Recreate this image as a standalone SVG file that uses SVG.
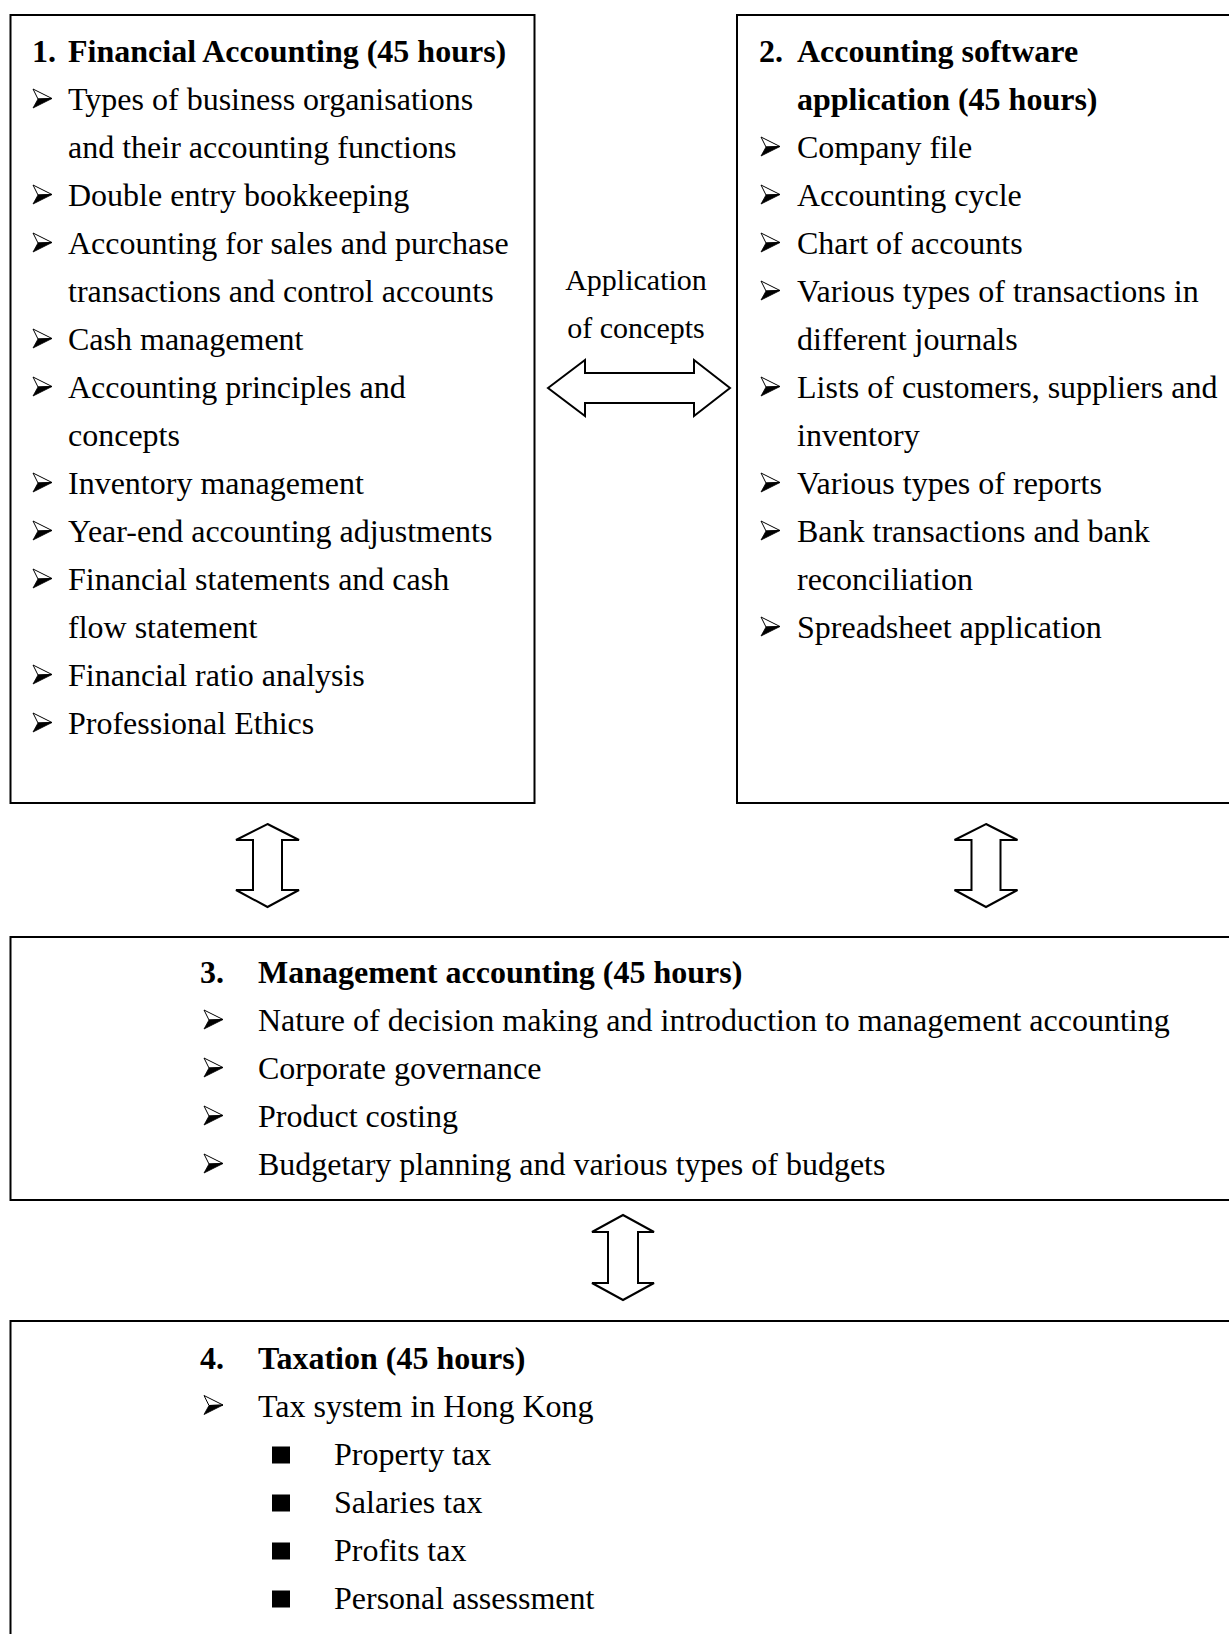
<svg xmlns="http://www.w3.org/2000/svg" xmlns:xlink="http://www.w3.org/1999/xlink" width="1229" height="1634" viewBox="0 0 1229 1634">
<style>
text { font-family: "Liberation Serif", "Times New Roman", serif; font-size: 32px; fill: #000; }
.b { font-weight: bold; }
.lbl { font-size: 30px; text-anchor: middle; }
.box { fill: #fff; stroke: #000; stroke-width: 2; }
.arw { fill: #fff; stroke: #000; stroke-width: 2; stroke-linejoin: miter; }
.sq { fill: #000; }
</style>
<defs>
<g id="bul">
<polygon points="0,-9.5 19,0 5,0.5" fill="#fff" stroke="#000" stroke-width="1"/>
<polygon points="5,0.5 19,0 0,9.5" fill="#000" stroke="#000" stroke-width="0.8"/>
</g>
</defs>
<rect width="1229" height="1634" fill="#fff"/>

<g id="node1">
<rect class="box" x="10.5" y="15" width="524" height="788"/>
<text class="b" x="32" y="62">1.</text>
<text class="b" x="68" y="62">Financial Accounting (45 hours)</text>
<use xlink:href="#bul" x="33" y="98.5"/><text x="68" y="110">Types of business organisations</text>
<text x="68" y="158">and their accounting functions</text>
<use xlink:href="#bul" x="33" y="194.5"/><text x="68" y="206">Double entry bookkeeping</text>
<use xlink:href="#bul" x="33" y="242.5"/><text x="68" y="254">Accounting for sales and purchase</text>
<text x="68" y="302">transactions and control accounts</text>
<use xlink:href="#bul" x="33" y="338.5"/><text x="68" y="350">Cash management</text>
<use xlink:href="#bul" x="33" y="386.5"/><text x="68" y="398">Accounting principles and</text>
<text x="68" y="446">concepts</text>
<use xlink:href="#bul" x="33" y="482.5"/><text x="68" y="494">Inventory management</text>
<use xlink:href="#bul" x="33" y="530.5"/><text x="68" y="542">Year-end accounting adjustments</text>
<use xlink:href="#bul" x="33" y="578.5"/><text x="68" y="590">Financial statements and cash</text>
<text x="68" y="638">flow statement</text>
<use xlink:href="#bul" x="33" y="674.5"/><text x="68" y="686">Financial ratio analysis</text>
<use xlink:href="#bul" x="33" y="722.5"/><text x="68" y="734">Professional Ethics</text>
</g>

<g id="node2">
<rect class="box" x="737" y="15" width="510" height="788"/>
<text class="b" x="759" y="62">2.</text>
<text class="b" x="797" y="62">Accounting software</text>
<text class="b" x="797" y="110">application (45 hours)</text>
<use xlink:href="#bul" x="761" y="146.5"/><text x="797" y="158">Company file</text>
<use xlink:href="#bul" x="761" y="194.5"/><text x="797" y="206">Accounting cycle</text>
<use xlink:href="#bul" x="761" y="242.5"/><text x="797" y="254">Chart of accounts</text>
<use xlink:href="#bul" x="761" y="290.5"/><text x="797" y="302">Various types of transactions in</text>
<text x="797" y="350">different journals</text>
<use xlink:href="#bul" x="761" y="386.5"/><text x="797" y="398">Lists of customers, suppliers and</text>
<text x="797" y="446">inventory</text>
<use xlink:href="#bul" x="761" y="482.5"/><text x="797" y="494">Various types of reports</text>
<use xlink:href="#bul" x="761" y="530.5"/><text x="797" y="542">Bank transactions and bank</text>
<text x="797" y="590">reconciliation</text>
<use xlink:href="#bul" x="761" y="626.5"/><text x="797" y="638">Spreadsheet application</text>
</g>

<g id="node3">
<rect class="box" x="10.5" y="937" width="1240" height="263"/>
<text class="b" x="200" y="983">3.</text>
<text class="b" x="258" y="983">Management accounting (45 hours)</text>
<use xlink:href="#bul" x="204" y="1019.5"/><text x="258" y="1031">Nature of decision making and introduction to management accounting</text>
<use xlink:href="#bul" x="204" y="1067.5"/><text x="258" y="1079">Corporate governance</text>
<use xlink:href="#bul" x="204" y="1115.5"/><text x="258" y="1127">Product costing</text>
<use xlink:href="#bul" x="204" y="1163.5"/><text x="258" y="1175">Budgetary planning and various types of budgets</text>
</g>

<g id="node4">
<rect class="box" x="10.5" y="1321" width="1240" height="330"/>
<text class="b" x="200" y="1368.5">4.</text>
<text class="b" x="258" y="1368.5">Taxation (45 hours)</text>
<use xlink:href="#bul" x="204" y="1405"/><text x="258" y="1416.5">Tax system in Hong Kong</text>
<rect class="sq" x="272" y="1446.5" width="18" height="17"/><text x="334" y="1464.5">Property tax</text>
<rect class="sq" x="272" y="1494.5" width="18" height="17"/><text x="334" y="1512.5">Salaries tax</text>
<rect class="sq" x="272" y="1542.5" width="18" height="17"/><text x="334" y="1560.5">Profits tax</text>
<rect class="sq" x="272" y="1590.5" width="18" height="17"/><text x="334" y="1608.5">Personal assessment</text>
</g>

<g id="connectors">
<path class="arw" d="M548,388 L585,360 L585,373 L694,373 L694,360 L730,388 L694,416 L694,403 L585,403 L585,416 Z"/>
<text class="lbl" x="636" y="290">Application</text>
<text class="lbl" x="636" y="338">of concepts</text>
<path class="arw" d="M267.5,824 L299,840 L282,840 L282,890 L299,890 L267.5,907 L236,890 L253,890 L253,840 L236,840 Z"/>
<path class="arw" d="M986,824 L1017.5,840 L1000.5,840 L1000.5,890 L1017.5,890 L986,907 L954.5,890 L971.5,890 L971.5,840 L954.5,840 Z"/>
<path class="arw" d="M623,1215 L654,1232 L638,1232 L638,1283 L654,1283 L623,1300 L592,1283 L608,1283 L608,1232 L592,1232 Z"/>
</g>
</svg>
